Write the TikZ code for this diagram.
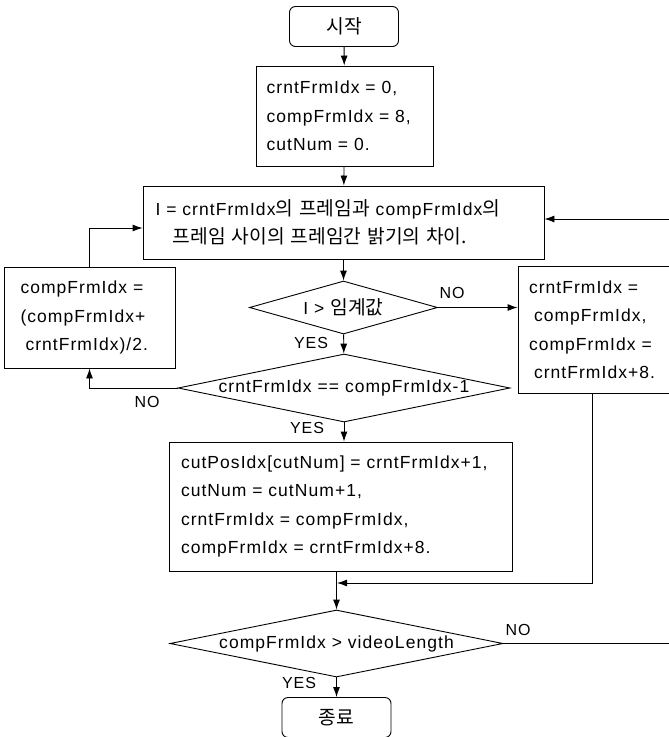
\documentclass[tikz,border=0pt]{standalone}
\usepackage{fontspec}
\setmainfont{Liberation Sans}[LetterSpace=6]
\newfontfamily\krfont{Noto Sans CJK KR}[Scale=1.1]
\newcommand{\ko}[1]{{\krfont #1}}
\usetikzlibrary{arrows.meta,shapes.geometric}

\begin{document}
\begin{tikzpicture}[->,>={Latex[length=10pt,width=7pt]},x=1pt,y=-1pt,line width=0.9pt,
		font=\fontsize{17.5}{28.5}\selectfont]
		\tikzstyle{term}=[draw,rounded corners=6pt,minimum width=109pt,minimum height=40pt,inner sep=0pt]
		\tikzstyle{proc}=[draw,rectangle,align=left,inner ysep=0pt]
		\tikzstyle{decision}=[draw,diamond,inner sep=0pt]
		\tikzstyle{tag}=[font=\fontsize{16}{16}\selectfont,inner sep=0pt]
		
		\useasboundingbox (0,0) rectangle (669,737);
		
		\node[term] (start) at (344,26.5) {\ko{시작}};
		\node[proc,text width=155.8pt,inner xsep=10.6pt,minimum height=100pt] (init) at (344.5,116)
		{crntFrmIdx = 0,\\compFrmIdx = 8,\\cutNum = 0.};
		\node[proc,text width=375.6pt,inner xsep=12.7pt,minimum height=73pt] (diff) at (343.5,222.5)
		{I = crntFrmIdx\ko{의} \ko{프레임과} compFrmIdx\ko{의}\\\hspace*{17pt}\ko{프레임 사이의 프레임간 밝기의 차이.}};
		\node[decision,minimum width=188pt,minimum height=53pt] (thresh) at (343.5,307.5)
		{\makebox[0pt]{I > \ko{임계값}}};
		\node[decision,minimum width=332pt,minimum height=68pt] (adjac) at (344,388)
		{\makebox[0pt]{crntFrmIdx == compFrmIdx-1}};
		\node[proc,text width=138pt,inner xsep=16.5pt,minimum height=101pt] (half) at (89.5,317.5)
		{compFrmIdx =\\(compFrmIdx+\\\hspace*{5pt}crntFrmIdx)/2.};
		\node[proc,text width=150pt,inner xsep=11pt,minimum height=127pt] (skip) at (604,329.5)
		{crntFrmIdx =\\\hspace*{5pt}compFrmIdx,\\compFrmIdx =\\\hspace*{5pt}crntFrmIdx+8.};
		\node[proc,text width=319pt,inner xsep=12pt,minimum height=129pt] (cut) at (340.5,506.5)
		{cutPosIdx[cutNum] = crntFrmIdx+1,\\cutNum = cutNum+1,\\crntFrmIdx = compFrmIdx,\\compFrmIdx = crntFrmIdx+8.};
		\node[decision,minimum width=333pt,minimum height=67pt] (last) at (336.5,643.5)
		{\makebox[0pt]{compFrmIdx > videoLength}};
		\node[term] (stop) at (336.5,717.5) {\ko{종료}};
		
		\coordinate (join) at (337,583);
		\coordinate (rim) at (676,643.5);
		
		\draw (start) -- (init);
		\draw (init) -- (diff);
		\draw (diff) -- (thresh);
		\draw (thresh) -- (adjac);
		\draw (adjac.south) -- (adjac.south |- cut.north);
		\draw (cut.south -| last.north) -- (last);
		\draw (last) -- (stop);
		\draw (thresh.east) -- (thresh.east -| skip.west);
		\draw (adjac.west) -| (half.south);
		\draw (half.north) |- ([yshift=-5.5pt]diff.west);
		\draw ([xshift=-12pt]skip.south) |- (join);
		\draw (last.east) -- (rim) |- ([yshift=3.5pt]diff.east);
		
		\node[tag] (no1) at (452,293) {NO};
		\node[tag] (yes1) at (311,343) {YES};
		\node[tag] (no2) at (147,402) {NO};
		\node[tag] (yes2) at (307,428) {YES};
		\node[tag] (no3) at (518,630) {NO};
		\node[tag] (yes3) at (299,683) {YES};
		\end{tikzpicture}
\end{document}
